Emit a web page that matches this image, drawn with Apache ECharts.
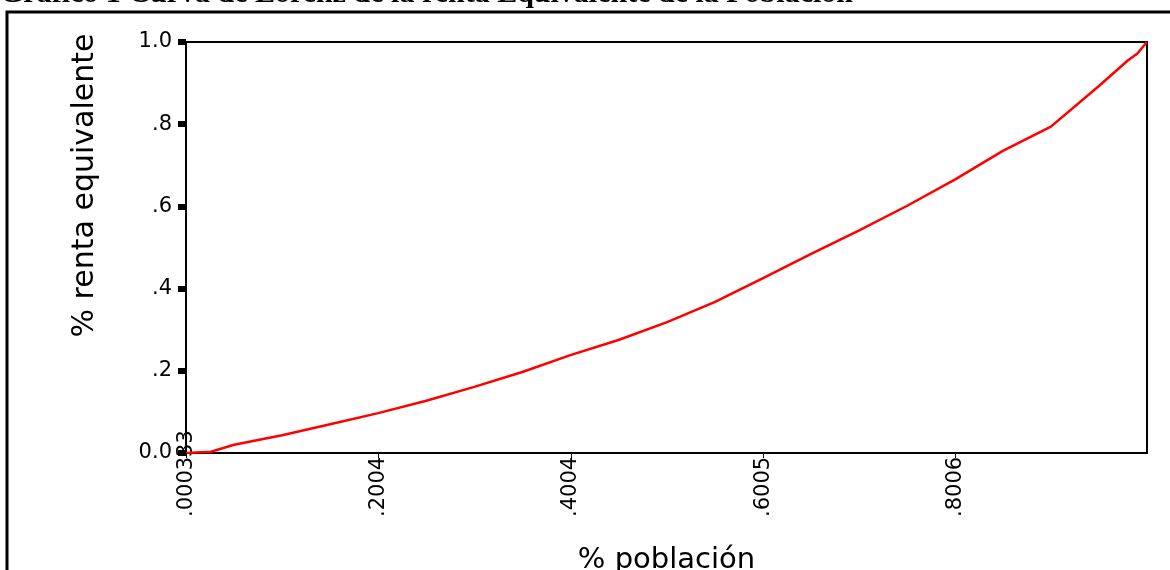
<!DOCTYPE html>
<html>
<head>
<meta charset="utf-8">
<script src="https://cdn.jsdelivr.net/npm/echarts@6/dist/echarts.min.js"></script>
<style>
html,body{margin:0;padding:0;background:#fff;}
#chart{width:1170px;height:570px;}
</style>
</head>
<body>
<div id="chart"></div>
<script>
// Data
const titleText = 'Gráfico 1 Curva de Lorenz de la renta Equivalente de la Población';
const xAxisName = '% población';
const yAxisName = '% renta equivalente';
const popShare    = [0.000333, 0.026, 0.05, 0.10, 0.15, 0.20, 0.25, 0.30, 0.35, 0.40, 0.45, 0.50, 0.55, 0.60, 0.65, 0.70, 0.75, 0.80, 0.85, 0.90, 0.95, 0.98, 0.99, 1.0];
const incomeShare = [0, 0.003, 0.020, 0.043, 0.070, 0.097, 0.127, 0.161, 0.197, 0.238, 0.275, 0.318, 0.367, 0.425, 0.484, 0.541, 0.601, 0.665, 0.735, 0.794, 0.893, 0.955, 0.972, 1.0];
const xTickValues = [0.000333, 0.2004, 0.4004, 0.6005, 0.8006];
const xTickLabels = ['.000333', '.2004', '.4004', '.6005', '.8006'];
const yTickLabels = ['0.0', '.2', '.4', '.6', '.8', '1.0'];

const seriesData = popShare.map((p, i) => [p, incomeShare[i]]);

const chart = echarts.init(document.getElementById('chart'), null, {renderer: 'canvas'});
chart.setOption({
  animation: false,
  backgroundColor: '#fff',
  title: {
    text: titleText,
    left: 0,
    top: -21,
    padding: 0,
    textStyle: {fontFamily: 'Liberation Serif', fontWeight: 'bold', fontSize: 30, color: '#000'}
  },
  graphic: [{
    type: 'rect',
    shape: {x: 7, y: 12, width: 1200, height: 600},
    style: {fill: 'none', stroke: '#000', lineWidth: 3},
    silent: true
  }],
  grid: {
    left: 186, top: 42, width: 961, height: 411,
    show: true, borderColor: '#000', borderWidth: 2,
    outerBoundsMode: 'none'
  },
  xAxis: {
    type: 'value',
    min: 0, max: 1,
    name: xAxisName,
    nameLocation: 'middle',
    nameGap: 93,
    nameMoveOverlap: false,
    nameTextStyle: {fontFamily: 'DejaVu Sans', fontSize: 29, color: '#000'},
    axisLine: {show: true, onZero: false, lineStyle: {color: '#000', width: 2}},
    axisTick: {show: true, customValues: xTickValues, length: 5, lineStyle: {color: '#000', width: 1}},
    axisLabel: {
      customValues: xTickValues,
      rotate: 90,
      align: 'left',
      margin: 64,
      fontFamily: 'DejaVu Sans', fontSize: 21, color: '#000',
      formatter: v => {
        const i = xTickValues.indexOf(v);
        return i >= 0 ? xTickLabels[i] : '';
      }
    },
    splitLine: {show: false}
  },
  yAxis: {
    type: 'value',
    min: 0, max: 1, interval: 0.2,
    name: yAxisName,
    nameLocation: 'middle',
    nameGap: 86,
    nameMoveOverlap: false,
    nameTextStyle: {fontFamily: 'DejaVu Sans', fontSize: 30, color: '#000', padding: [0, 0, 0, 124]},
    axisLine: {show: true, onZero: false, lineStyle: {color: '#000', width: 2}},
    axisTick: {show: true, length: 8, lineStyle: {color: '#000', width: 6}},
    axisLabel: {
      margin: 14,
      fontFamily: 'DejaVu Sans', fontSize: 21, color: '#000',
      formatter: v => yTickLabels[Math.round(v / 0.2)]
    },
    splitLine: {show: false}
  },
  series: [{
    type: 'line',
    data: seriesData,
    showSymbol: false,
    symbol: 'none',
    lineStyle: {color: '#ff0000', width: 2.5},
    z: 3
  }]
});
</script>
</body>
</html>
